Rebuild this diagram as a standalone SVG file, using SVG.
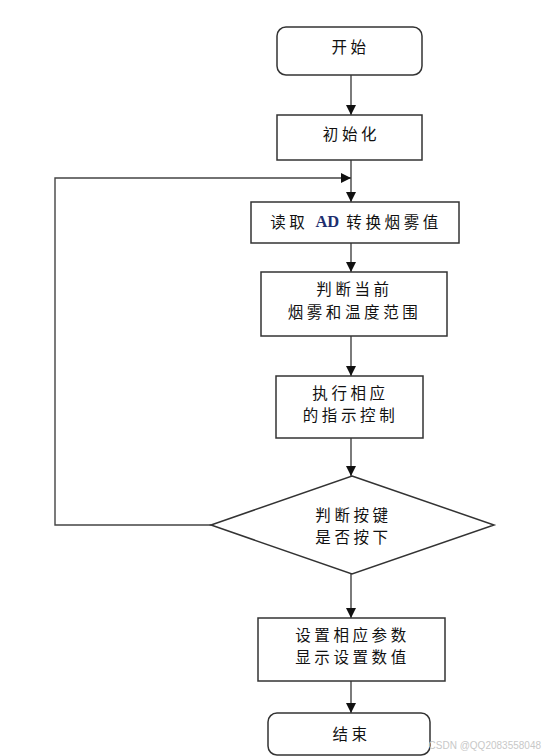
<svg xmlns="http://www.w3.org/2000/svg" width="543" height="756" viewBox="0 0 543 756">
<style>
.box{fill:#fff;stroke:#333;stroke-width:1.5}
.ln{fill:none;stroke:#444;stroke-width:1.4}
.t{font-family:"Noto Sans CJK SC","Noto Sans CJK JP",sans-serif;font-size:15.5px;letter-spacing:3.6px;fill:#111;text-anchor:middle;dominant-baseline:central}
.ad{font-family:"Liberation Serif",serif;font-weight:bold;font-size:16.5px;fill:#1f2f6f;letter-spacing:0}
.wm{font-family:"Liberation Sans",sans-serif;font-size:10px;fill:#c8c8c8;text-anchor:end}
</style>
<defs>
<marker id="arr" markerWidth="10" markerHeight="10" refX="10" refY="5" orient="auto" markerUnits="userSpaceOnUse">
<path d="M0,0 L10,5 L0,10 Z" fill="#111"/>
</marker>
</defs>
<rect width="543" height="756" fill="#fff"/>
<g id="connectors">
<line class="ln" x1="351" y1="75" x2="351" y2="115" marker-end="url(#arr)"/>
<line class="ln" x1="351" y1="160" x2="351" y2="202" marker-end="url(#arr)"/>
<polyline class="ln" points="211,525 55,525 55,178 351,178" marker-end="url(#arr)"/>
<line class="ln" x1="351" y1="243" x2="351" y2="272" marker-end="url(#arr)"/>
<line class="ln" x1="351" y1="336" x2="351" y2="376" marker-end="url(#arr)"/>
<line class="ln" x1="351" y1="438" x2="351" y2="476" marker-end="url(#arr)"/>
<line class="ln" x1="351" y1="574" x2="351" y2="618" marker-end="url(#arr)"/>
<line class="ln" x1="351" y1="681" x2="351" y2="713" marker-end="url(#arr)"/>
</g>
<g id="start">
<rect class="box" x="277" y="27" width="145" height="48" rx="9"/>
<text class="t" x="350.5" y="46">开始</text>
</g>
<g id="init">
<rect class="box" x="277" y="115" width="145" height="45"/>
<text class="t" x="351.5" y="133">初始化</text>
</g>
<g id="read">
<rect class="box" x="251" y="202" width="208" height="41"/>
<text class="t" x="356" y="221">读取 <tspan class="ad">AD</tspan> 转换烟雾值</text>
</g>
<g id="judge-range">
<rect class="box" x="261" y="272" width="186" height="64"/>
<text class="t" x="354.5" y="288">判断当前</text>
<text class="t" x="354.5" y="310.5">烟雾和温度范围</text>
</g>
<g id="execute">
<rect class="box" x="276" y="376" width="147" height="62"/>
<text class="t" x="350.5" y="391.5">执行相应</text>
<text class="t" x="350.5" y="414">的指示控制</text>
</g>
<g id="judge-key">
<polygon class="box" points="352,476 494,525 352,574 211,525"/>
<text class="t" x="353.5" y="513.5">判断按键</text>
<text class="t" x="353.5" y="536">是否按下</text>
</g>
<g id="set">
<rect class="box" x="258" y="618" width="187" height="63"/>
<text class="t" x="352.5" y="633.5">设置相应参数</text>
<text class="t" x="352.5" y="656">显示设置数值</text>
</g>
<g id="end">
<rect class="box" x="268" y="713" width="162" height="42" rx="9"/>
<text class="t" x="351.5" y="733">结束</text>
</g>
<text class="wm" x="541" y="749">CSDN @QQ2083558048</text>
</svg>
